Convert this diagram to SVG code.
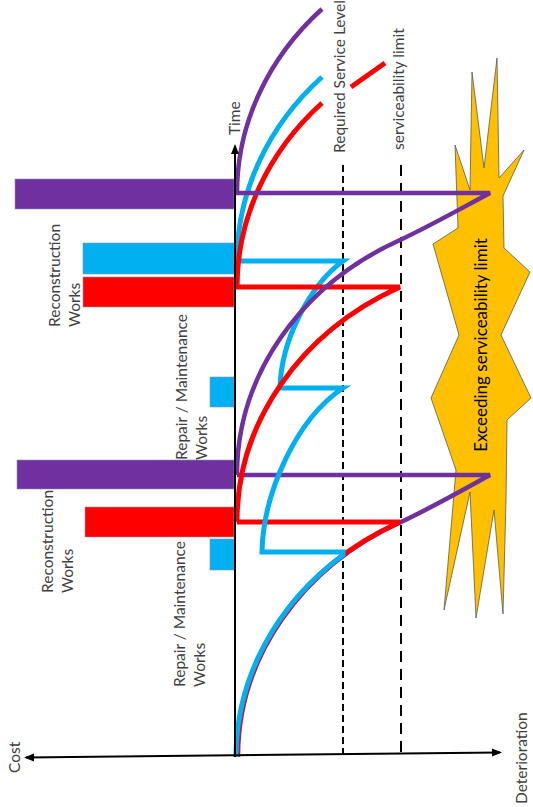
<svg xmlns="http://www.w3.org/2000/svg" width="533" height="807" viewBox="0 0 533 807">
<style>
.lbl{font-family:Lato,"Liberation Sans",sans-serif;font-size:15.5px;fill:#404040}
.big{font-family:Lato,"Liberation Sans",sans-serif;font-size:17px;fill:#000}
.c{fill:none;stroke-linejoin:miter;stroke-linecap:butt}
.p{stroke:#7030A0;stroke-width:4.5}
.b{stroke:#00B0F0;stroke-width:5}
.r{stroke:#FF0000;stroke-width:5}
.bar{stroke:#8497B0;stroke-width:0.6}
.ax{stroke:#000;stroke-width:2;fill:none}
</style>
<defs>
<marker id="ah" viewBox="0 0 10 10" refX="8" refY="5" markerWidth="10" markerHeight="10" markerUnits="userSpaceOnUse" orient="auto-start-reverse"><path d="M0,1 L10,5 L0,9 z" fill="#000"/></marker>
</defs>
<g id="star">
<polygon points="497,58 499,178 524,150 503,196 504,248 530,272 501,335 531,398 507,420 506,500 503,614 494,510 476,618 470,492 444,610 456,470 431,398 459,335 433,244 458,228 455,145 470,190 472,72 484,168" fill="#FFC000" stroke="#595959" stroke-width="0.8"/>
<text class="big" transform="translate(487,345) rotate(-90)" text-anchor="middle">Exceeding serviceability limit</text>
</g>
<g id="bars">
<rect id="bar-purple-1" class="bar" x="15" y="179" width="219" height="30" fill="#7030A0"/>
<rect id="bar-blue-1" class="bar" x="83" y="243" width="151" height="31" fill="#00B0F0"/>
<rect id="bar-red-1" class="bar" x="83" y="277" width="151" height="30" fill="#FF0000"/>
<rect id="bar-blue-2" class="bar" x="210" y="377" width="24" height="30" fill="#00B0F0"/>
<rect id="bar-purple-2" class="bar" x="17" y="460" width="217" height="29" fill="#7030A0"/>
<rect id="bar-red-2" class="bar" x="85" y="507" width="149" height="30" fill="#FF0000"/>
<rect id="bar-blue-3" class="bar" x="210" y="539" width="24" height="31" fill="#00B0F0"/>
</g>
<g id="connectors">
<line class="ax" x1="343" y1="165" x2="343" y2="756" stroke-width="2.5" stroke-dasharray="7 4"/>
<line class="ax" x1="401" y1="165" x2="401" y2="755" stroke-width="3" stroke-dasharray="11 7"/>
<path class="c p" d="M238,757 A300,264 0 0 1 401,522 C431,508 461,491 490,475 L237,475"/>
<path class="c r" d="M237,757 A300,264 0 0 1 400,522 L237,522"/>
<path class="c b" d="M236,757 A300,264 0 0 1 343,555 L343,552 L262,552 C263,495 295,420 343,388 L280,388 C281,340 310,285 343,261 L237,261 A300,264 0 0 1 322,77"/>
<path class="c r" d="M237,522 A300,264 0 0 1 400,287 L237,287 A300,264 0 0 1 322,103"/>
<path class="c r" d="M351,87 L385,63"/>
<path class="c p" d="M237,475 A300,264 0 0 1 400,240 C430,226 460,209 490,193 L237,193 A300,264 0 0 1 322,9"/>
<line class="ax" x1="235" y1="757" x2="235" y2="146" marker-end="url(#ah)"/>
<line class="ax" x1="26" y1="757.5" x2="500" y2="752.5" marker-start="url(#ah)" marker-end="url(#ah)"/>
</g>
<g id="labels">
<text class="lbl" transform="translate(240,135) rotate(-90)">Time</text>
<text class="lbl" transform="translate(345,153) rotate(-90)">Required Service Level</text>
<text class="lbl" transform="translate(404,150) rotate(-90)">serviceability limit</text>
<text class="lbl" transform="translate(20,773) rotate(-90)">Cost</text>
<text class="lbl" transform="translate(527,804) rotate(-90)">Deterioration</text>
<text class="lbl" transform="translate(60,327) rotate(-90)">Reconstruction</text>
<text class="lbl" transform="translate(80,327) rotate(-90)">Works</text>
<text class="lbl" transform="translate(187,460) rotate(-90)">Repair / Maintenance</text>
<text class="lbl" transform="translate(207,460) rotate(-90)">Works</text>
<text class="lbl" transform="translate(53,593) rotate(-90)">Reconstruction</text>
<text class="lbl" transform="translate(73,593) rotate(-90)">Works</text>
<text class="lbl" transform="translate(185,687) rotate(-90)">Repair / Maintenance</text>
<text class="lbl" transform="translate(205,687) rotate(-90)">Works</text>
</g>
</svg>
